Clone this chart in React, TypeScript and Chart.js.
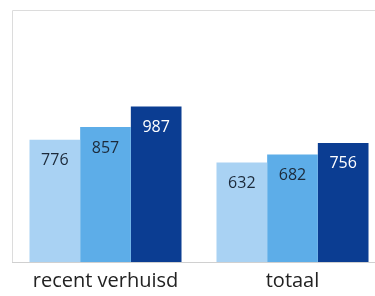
import React, { useEffect, useRef } from "react";
import { Chart, registerables } from "chart.js";

Chart.register(...registerables);

const categories = ["recent verhuisd", "totaal"];
const seriesNames = ["reeks 1", "reeks 2", "reeks 3"];
const series1 = [776, 632];
const series2 = [857, 682];
const series3 = [987, 756];
const seriesColors = ["#a9d2f3", "#5dade8", "#0b3d92"];
const labelColors = ["#1c2a3a", "#1c2a3a", "#ffffff"];

const valueLabels = {
  id: "valueLabels",
  afterDatasetsDraw(chart: any) {
    const ctx = chart.ctx;
    ctx.save();
    ctx.font = "16px 'Open Sans', sans-serif";
    ctx.textAlign = "center";
    ctx.textBaseline = "middle";
    chart.data.datasets.forEach((ds: any, i: number) => {
      const meta = chart.getDatasetMeta(i);
      meta.data.forEach((bar: any, j: number) => {
        ctx.fillStyle = labelColors[i];
        ctx.fillText(String(ds.data[j]), bar.x, bar.y + 21);
      });
    });
    ctx.restore();
  },
};

const frame = {
  id: "frame",
  beforeDatasetsDraw(chart: any) {
    const { ctx, chartArea } = chart;
    ctx.save();
    ctx.strokeStyle = "#dcdcdc";
    ctx.lineWidth = 1;
    ctx.beginPath();
    ctx.moveTo(chartArea.left + 0.5, chartArea.bottom);
    ctx.lineTo(chartArea.left + 0.5, chartArea.top + 0.5);
    ctx.lineTo(chartArea.right, chartArea.top + 0.5);
    ctx.stroke();
    ctx.restore();
  },
};

export default function App() {
  const ref = useRef<HTMLCanvasElement | null>(null);
  useEffect(() => {
    if (!ref.current) return;
    const data = [series1, series2, series3];
    const chart = new Chart(ref.current, {
      type: "bar",
      data: {
        labels: categories,
        datasets: data.map((d, i) => ({
          label: seriesNames[i],
          data: d,
          backgroundColor: seriesColors[i],
          borderWidth: 0,
          categoryPercentage: 0.813,
          barPercentage: 1.0,
        })),
      },
      options: {
        animation: false,
        responsive: false,
        layout: { padding: { left: 12, top: 10, right: 4, bottom: 0 } },
        plugins: { legend: { display: false }, tooltip: { enabled: false } },
        scales: {
          x: {
            grid: { display: false, drawTicks: false },
            border: { display: true, color: "#d0d0d0" },
            ticks: {
              color: "#222222",
              font: { family: "'Open Sans', sans-serif", size: 20 },
              padding: 7,
            },
          },
          y: {
            display: false,
            min: 0,
            max: 1600,
          },
        },
      },
      plugins: [frame, valueLabels],
    });
    return () => chart.destroy();
  }, []);
  return (
    <div
      style={{
        position: "fixed",
        left: 0,
        top: 0,
        width: 375,
        height: 296,
        overflow: "hidden",
        background: "#ffffff",
      }}
    >
      <canvas ref={ref} width={390} height={300} style={{ width: 390, height: 300 }} />
    </div>
  );
}
